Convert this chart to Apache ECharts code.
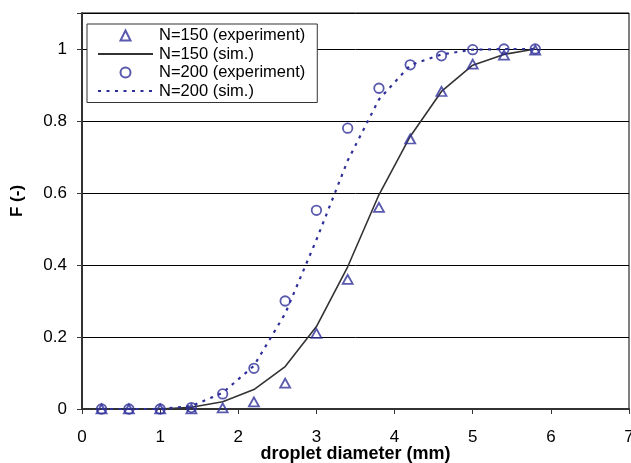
<!DOCTYPE html>
<html>
<head>
<meta charset="utf-8">
<script src="https://cdn.jsdelivr.net/npm/echarts@6/dist/echarts.min.js"></script>
<style>
html,body{margin:0;padding:0;background:#fff;}
#chart{width:631px;height:463px;}
</style>
</head>
<body>
<div id="chart"></div>
<script>
// droplet diameter (mm)
var diameters = [0.25, 0.6, 1.0, 1.4, 1.8, 2.2, 2.6, 3.0, 3.4, 3.8, 4.2, 4.6, 5.0, 5.4, 5.8];
var exp150 = [0, 0, 0, 0, 0.003, 0.02, 0.072, 0.21, 0.36, 0.56, 0.75, 0.882, 0.958, 0.983, 0.997];
var sim150 = [0, 0, 0, 0.005, 0.02, 0.054, 0.118, 0.229, 0.395, 0.595, 0.757, 0.882, 0.955, 0.985, 1.0];
var exp200 = [0, 0, 0, 0.004, 0.042, 0.113, 0.30, 0.552, 0.78, 0.891, 0.956, 0.981, 0.998, 1.0, 1.0];
var sim200 = [0, 0, 0, 0.008, 0.045, 0.12, 0.265, 0.47, 0.69, 0.86, 0.955, 0.985, 0.998, 1.0, 1.0];
var seriesNames = ['N=150 (experiment)', 'N=150 (sim.)', 'N=200 (experiment)', 'N=200 (sim.)'];
var xTicks = [0, 1, 2, 3, 4, 5, 6, 7];
var yTicks = [0, 0.2, 0.4, 0.6, 0.8, 1];

function pairs(xs, ys) { return xs.map(function (x, i) { return [x, ys[i]]; }); }

var blue = '#2f2f9a';
var font = '"Liberation Sans", Arial, sans-serif';
var hiddenSym = {color: 'rgba(0,0,0,0)', borderWidth: 0, borderColor: 'rgba(0,0,0,0)'};
var triPath = 'path://M5,0.5L9.5,9.5L0.5,9.5Z';

var chart = echarts.init(document.getElementById('chart'), null, {renderer: 'canvas'});
chart.setOption({
  animation: false,
  backgroundColor: '#fff',
  grid: {left: 82, right: 2, top: 13, bottom: 54, show: true, borderColor: '#000', borderWidth: 1,
         containLabel: false, outerBoundsMode: 'none'},
  legend: {
    orient: 'vertical', left: 87, top: 24,
    data: [
      {name: seriesNames[0], icon: triPath},
      {name: seriesNames[1], itemStyle: hiddenSym},
      {name: seriesNames[2]},
      {name: seriesNames[3], itemStyle: hiddenSym}
    ],
    symbolKeepAspect: true,
    itemWidth: 55, itemHeight: 10, itemGap: 1.5,
    padding: [3, 12, 3, 10],
    borderColor: '#333', borderWidth: 1, backgroundColor: '#fff',
    textStyle: {fontFamily: font, fontSize: 16.5, color: '#000', lineHeight: 17, padding: [0, 0, 0, 1]}
  },
  xAxis: {
    type: 'value', min: xTicks[0], max: xTicks[xTicks.length - 1], interval: 1,
    name: 'droplet diameter (mm)', nameLocation: 'middle', nameGap: 36, nameMoveOverlap: false,
    nameTextStyle: {fontFamily: font, fontSize: 18, fontWeight: 'bold', color: '#000', lineHeight: 18},
    axisLine: {lineStyle: {color: '#333', width: 2}},
    axisTick: {show: true, inside: false, length: 5, lineStyle: {color: '#333', width: 1}},
    axisLabel: {fontFamily: font, fontSize: 17, color: '#000', margin: 20},
    splitLine: {show: false}
  },
  yAxis: {
    type: 'value', min: 0, max: 1.1, interval: 0.2,
    name: 'F (-)', nameLocation: 'middle', nameGap: 56, nameMoveOverlap: false,
    nameTextStyle: {fontFamily: font, fontSize: 17, fontWeight: 'bold', color: '#000', padding: [0, 0, 0, 20]},
    axisLine: {show: true, lineStyle: {color: '#333', width: 2}},
    axisTick: {show: true, inside: false, length: 5, lineStyle: {color: '#333', width: 1}},
    axisLabel: {
      fontFamily: font, fontSize: 17, color: '#000', margin: 15,
      formatter: function (v) {
        for (var i = 0; i < yTicks.length; i++) {
          if (Math.abs(v - yTicks[i]) < 1e-6) return String(yTicks[i]);
        }
        return '';
      }
    },
    splitLine: {show: true, lineStyle: {color: '#000', width: 1}}
  },
  series: [
    {
      name: seriesNames[0], type: 'scatter', data: pairs(diameters, exp150),
      symbol: 'triangle', symbolSize: [10, 9], z: 5,
      itemStyle: {color: 'rgba(255,255,255,0)', borderColor: blue, borderWidth: 1.8}
    },
    {
      name: seriesNames[1], type: 'line', data: pairs(diameters, sim150),
      symbol: 'none', showSymbol: false, z: 3,
      lineStyle: {color: '#333', width: 1.6, type: 'solid'},
      itemStyle: {color: '#333'}
    },
    {
      name: seriesNames[2], type: 'scatter', data: pairs(diameters, exp200),
      symbol: 'circle', symbolSize: 9.5, z: 5,
      itemStyle: {color: 'rgba(255,255,255,0)', borderColor: blue, borderWidth: 1.8}
    },
    {
      name: seriesNames[3], type: 'line', data: pairs(diameters, sim200),
      symbol: 'none', showSymbol: false, z: 3,
      lineStyle: {color: blue, width: 2.2, type: [3, 5.5]},
      itemStyle: {color: blue}
    }
  ]
});
</script>
</body>
</html>
